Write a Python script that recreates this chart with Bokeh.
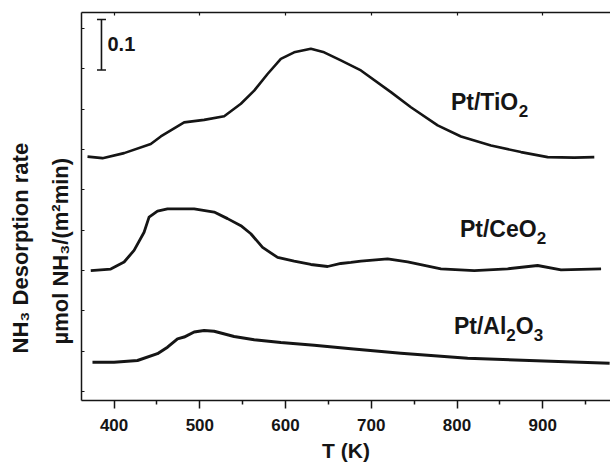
import math
from bokeh.plotting import figure
from bokeh.models import Range1d, LinearAxis, FixedTicker, Label, Title, CustomJSTickFormatter
from bokeh.embed import file_html
from bokeh.resources import INLINE

# ---- data ----
ti_T = [369, 386.5, 411.7, 442.8, 454.5, 481.7, 505, 528.4, 547.9, 563.4, 579, 594.5,
        610, 629.5, 645, 664.5, 687.9, 722.9, 746.2, 777.4, 804.6, 839.6, 874.6,
        905.7, 936.8, 960.1]
ti_y = [0.466, 0.463, 0.473, 0.491, 0.506, 0.534, 0.539, 0.546, 0.571, 0.597, 0.630,
        0.660, 0.673, 0.680, 0.673, 0.657, 0.637, 0.594, 0.564, 0.528, 0.506, 0.488,
        0.475, 0.465, 0.464, 0.465]

ce_T = [372.8, 396.1, 411.7, 423.3, 435, 440.8, 450.6, 462.3, 493.4, 516.7, 532.3,
        547.9, 559.5, 573.2, 590.7, 610, 629.5, 649, 664.5, 676.2, 687.9, 719, 742.4,
        781.2, 820.1, 859, 894, 921.3, 968]
ce_y = [0.240, 0.243, 0.257, 0.280, 0.316, 0.346, 0.358, 0.3625, 0.3625, 0.356, 0.343,
        0.329, 0.313, 0.286, 0.266, 0.2585, 0.252, 0.248, 0.254, 0.256, 0.2585, 0.263,
        0.257, 0.2435, 0.240, 0.2435, 0.250, 0.2415, 0.2435]

al_T = [374.8, 400, 427.3, 450.6, 462.3, 474, 481.7, 493.4, 505, 516.7, 540, 563.4,
        594.5, 633.4, 676.2, 734.5, 812.4, 909.5, 978]
al_y = [0.058, 0.058, 0.0615, 0.075, 0.088, 0.1045, 0.108, 0.118, 0.121, 0.1195, 0.109,
        0.1025, 0.097, 0.092, 0.085, 0.076, 0.066, 0.060, 0.056]

x_ticks = [400, 500, 600, 700, 800, 900]
x_minor = [450, 550, 650, 750, 850, 950]
y_ticks = [0.0, 0.08, 0.16, 0.24, 0.32, 0.40, 0.48, 0.56, 0.64, 0.72]

scale_bar = 0.1

# ---- layout ----
W, H = 610, 466
ML, MT, MB, MR = 81, 12, 66, 0
X0, X1 = 362, 979
Y0, Y1 = -0.01786, 0.752
ppx = (W - ML - MR) / (X1 - X0)
ppu = (H - MT - MB) / (Y1 - Y0)
LBL_DY = 10  # px lift applied to in-plot labels

FONT = "Liberation Sans"
INK = "#151515"

p = figure(width=W, height=H, x_range=Range1d(X0, X1), y_range=Range1d(Y0, Y1),
           output_backend="svg", toolbar_location=None,
           min_border_left=ML, min_border_top=MT, min_border_bottom=MB, min_border_right=MR,
           x_axis_type=None, y_axis_type=None)
p.outline_line_color = None
p.background_fill_color = "white"
p.border_fill_color = "white"

blank = CustomJSTickFormatter(code="return ''")

xb = LinearAxis(ticker=FixedTicker(ticks=x_ticks, minor_ticks=x_minor))
xb.major_tick_out = 8
xb.major_tick_in = 0
xb.minor_tick_out = 4
xb.minor_tick_in = 0
xb.axis_line_width = 1.5
xb.axis_line_color = INK
xb.major_tick_line_width = 1.5
xb.minor_tick_line_width = 1.5
xb.major_tick_line_color = INK
xb.minor_tick_line_color = INK
xb.major_label_text_font = FONT
xb.major_label_text_font_style = "bold"
xb.major_label_text_font_size = "17px"
xb.major_label_text_color = INK
xb.major_label_standoff = 10
xb.axis_label = "T (K)"
xb.axis_label_text_font = FONT
xb.axis_label_text_font_style = "bold"
xb.axis_label_text_font_size = "21px"
xb.axis_label_text_color = INK
xb.axis_label_standoff = 5
p.add_layout(xb, "below")

xt = LinearAxis(ticker=FixedTicker(ticks=x_ticks, minor_ticks=[]), formatter=blank)
xt.major_tick_in = 3
xt.major_tick_out = 0
xt.minor_tick_line_color = None
xt.axis_line_width = 1.5
xt.axis_line_color = INK
xt.major_tick_line_width = 1.2
xt.major_tick_line_color = INK
xt.major_label_standoff = 0
p.add_layout(xt, "above")

yl = LinearAxis(ticker=FixedTicker(ticks=y_ticks, minor_ticks=[]), formatter=blank)
yl.major_tick_in = 3
yl.major_tick_out = 0
yl.minor_tick_line_color = None
yl.axis_line_width = 1.5
yl.axis_line_color = INK
yl.major_tick_line_width = 1.2
yl.major_tick_line_color = INK
yl.major_label_standoff = 0
p.add_layout(yl, "left")

# y axis title: two rotated lines (inner line added first); offset measured from frame bottom
for txt, so, off in [("\u00b5mol NH\u2083/(m\u00b2min)", 17, 56), ("NH\u2083 Desorption rate", 9, 47)]:
    t = Title(text=txt, align="left", offset=off, standoff=so, text_font=FONT,
              text_font_style="bold", text_font_size="22px", text_color=INK)
    p.add_layout(t, "left")

# ---- curves ----
p.line(ti_T, ti_y, line_width=2.6, line_color=INK, line_join="round")
p.line(ce_T, ce_y, line_width=2.8, line_color=INK, line_join="round")
p.line(al_T, al_y, line_width=3.0, line_color=INK, line_join="round")

# ---- scale bar ----
sb_T = 385.3
sb_y0 = 0.638
p.segment(x0=[sb_T], y0=[sb_y0], x1=[sb_T], y1=[sb_y0 + scale_bar], line_width=1.6, line_color=INK)
p.scatter([sb_T, sb_T], [sb_y0, sb_y0 + scale_bar], marker="dash", size=9,
          line_width=1.6, line_color=INK)
p.add_layout(Label(x=392.3, y=0.670 + LBL_DY / ppu, text="0.1", text_font=FONT,
                   text_font_style="bold", text_font_size="20px", text_color=INK,
                   text_align="left", text_baseline="alphabetic"))

# ---- composed curve labels ----
AW = {" ": 278, "N": 722, "H": 722, "D": 722, "e": 556, "s": 556, "o": 611, "r": 389,
      "p": 611, "t": 333, "i": 278, "n": 611, "a": 556, "m": 889, "l": 278,
      "/": 278, "(": 333, ")": 333, "2": 556, "3": 556, "P": 667, "T": 611, "O": 778,
      "C": 722, "A": 722, "K": 722}


def tw(s, size):
    return sum(AW.get(c, 556) for c in s) * size / 1000.0


def run(x, y, pieces):
    off = 0.0
    for txt, size, shift in pieces:
        p.add_layout(Label(x=x + off / ppx, y=y + (LBL_DY - shift) / ppu, text=txt,
                           text_font=FONT, text_font_style="bold",
                           text_font_size=f"{size}px", text_color=INK,
                           text_align="left", text_baseline="alphabetic"))
        off += tw(txt, size)


F, S, SH = 23, 17, 9
run(792.9, 0.5536, [("Pt/TiO", F, 0), ("2", S, SH)])
run(803.4, 0.303, [("Pt/CeO", F, 0), ("2", S, SH)])
run(796.4, 0.111, [("Pt/Al", F, 0), ("2", S, SH), ("O", F, 0), ("3", S, SH)])

open("out.html", "w").write(file_html(p, INLINE))
